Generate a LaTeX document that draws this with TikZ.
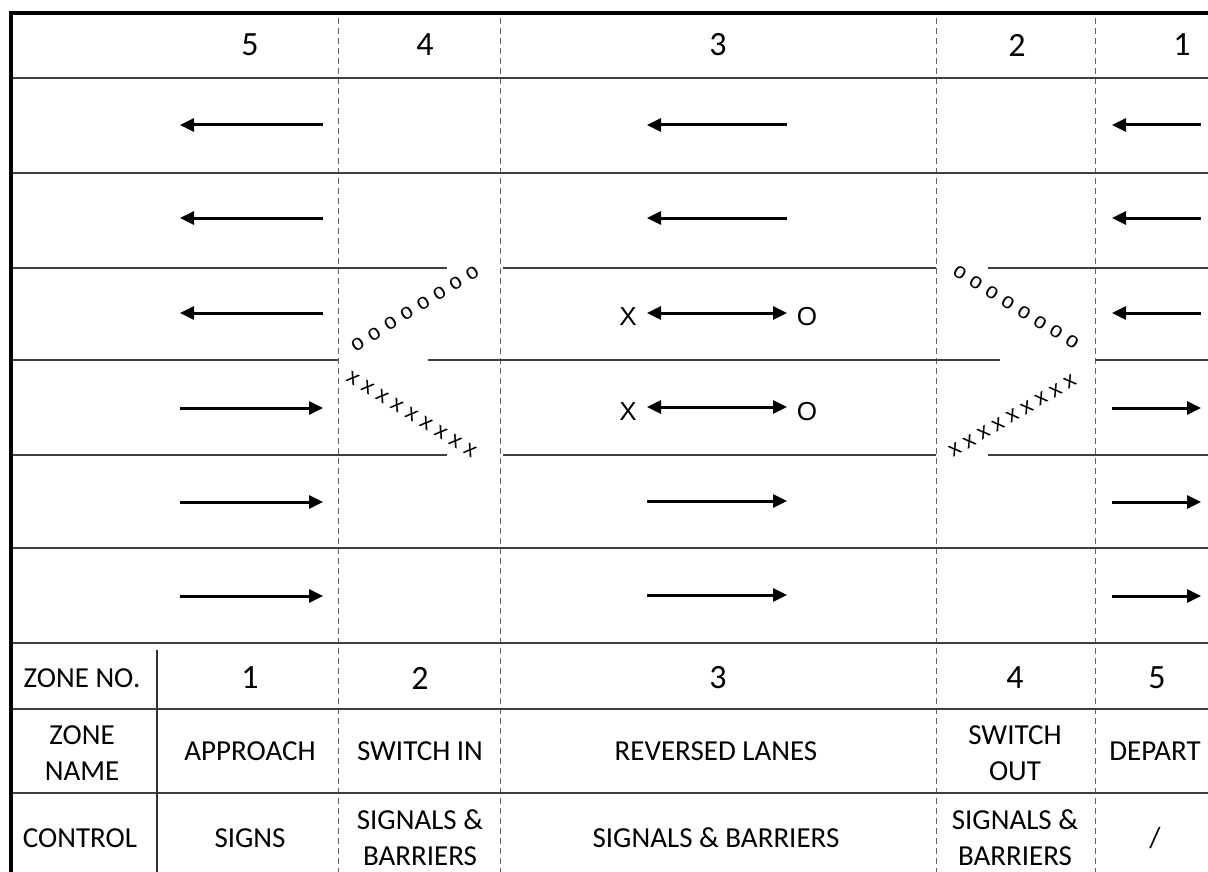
\documentclass[tikz,border=0pt]{standalone}
\usepackage{fontspec}
\setmainfont{Carlito}
\newfontfamily\arialf{Liberation Sans}
\usetikzlibrary{arrows.meta,calc}
\begin{document}
\begin{tikzpicture}[x=1pt,y=-1pt,
  hline/.style={line width=1.6pt, draw=black!75},
  dline/.style={line width=1pt, draw=black!60, dash pattern=on 6pt off 4pt},
  arr/.style={line width=3pt, -{Triangle[length=14pt,width=13pt]}},
  darr/.style={line width=3pt, {Triangle[length=14pt,width=13pt]}-{Triangle[length=14pt,width=13pt]}},
  txt/.style={font=\fontsize{29}{36}\selectfont, align=center, inner sep=0pt},
  num/.style={font=\fontsize{34}{40}\selectfont, inner sep=0pt},
  xo/.style={font=\arialf\fontsize{26}{26}\selectfont, inner sep=0pt},
  sm/.style={font=\arialf\fontsize{22}{22}\selectfont, inner sep=0pt}]
\useasboundingbox (0,0) rectangle (1208,872);
\fill[white] (0,0) rectangle (1208,872);
% dashed verticals
\foreach \x in {338,500,936,1095} \draw[dline] (\x,18) -- (\x,872);
% horizontal lines
\foreach \y in {78,173,548,643,709,793} \draw[hline] (11,\y) -- (1208,\y);
\foreach \y in {268,455} {
  \draw[hline] (11,\y) -- (447,\y);
  \draw[hline] (503,\y) -- (936,\y);
  \draw[hline] (988,\y) -- (1208,\y);
}
\draw[hline] (11,360) -- (338,360);
\draw[hline] (428,360) -- (1000,360);
\draw[hline] (1095,360) -- (1208,360);
% solid vertical in bottom table
\draw[line width=1.6pt, draw=black!80] (157,650) -- (157,872);
% outer border
\draw[line width=4pt] (11,872) -- (11,13) -- (1208,13);
% header numbers
\node[num] (h5) at (250,45) {5};
\node[num] (h4) at (425,45) {4};
\node[num] (h3) at (718,45) {3};
\node[num] (h2) at (1017,45) {2};
\node[num] (h1) at (1182,45) {1};
% arrows
\foreach \y in {125,218,313} {
  \draw[arr] (323,\y) -- (180,\y);
  \draw[arr] (1201,\y) -- (1112,\y);
}
\foreach \y in {125,218} \draw[arr] (787,\y) -- (647,\y);
\foreach \y in {408,502,596} {
  \draw[arr] (180,\y) -- (323,\y);
  \draw[arr] (1112,\y) -- (1201,\y);
}
\foreach \y in {501,595} \draw[arr] (647,\y) -- (787,\y);
\draw[darr] (647,313) -- (787,313);
\draw[darr] (647,407) -- (787,407);
\node[xo] (x1) at (628,317) {X};
\node[xo] (o1) at (807,317) {O};
\node[xo] (x2) at (628,412) {X};
\node[xo] (o2) at (807,412) {O};
% switch in
\node[sm, rotate=31.9] (sio) at (415,308.5)
  {o\kern7pt o\kern7pt o\kern7pt o\kern7pt o\kern7pt o\kern7pt o\kern7pt o};
\node[sm, rotate=-31.6] (six) at (411.5,414)
  {x\kern6.2pt x\kern6.2pt x\kern6.2pt x\kern6.2pt x\kern6.2pt x\kern6.2pt x\kern6.2pt x\kern6.2pt x};
% switch out
\node[sm, rotate=-31.6] (soo) at (1016,307.5)
  {o\kern6.6pt o\kern6.6pt o\kern6.6pt o\kern6.6pt o\kern6.6pt o\kern6.6pt o\kern6.6pt o};
\node[sm, rotate=30.6] (sox) at (1012.5,416)
  {x\kern5.7pt x\kern5.7pt x\kern5.7pt x\kern5.7pt x\kern5.7pt x\kern5.7pt x\kern5.7pt x\kern5.7pt x};
% bottom table
\node[txt] (zn) at (82,678) {ZONE NO.};
\node[num] (b1) at (250,678) {1};
\node[num] (b2) at (420,678) {2};
\node[num] (b3) at (718,678) {3};
\node[num] (b4) at (1015,678) {4};
\node[num] (b5) at (1157,678) {5};
\node[txt] (zname) at (82,753) {ZONE\\NAME};
\node[txt] (n1) at (250,751) {APPROACH};
\node[txt] (n2) at (420,751) {SWITCH IN};
\node[txt] (n3) at (716,751) {REVERSED LANES};
\node[txt] (n4) at (1015,753) {SWITCH\\OUT};
\node[txt] (n5) at (1155,751) {DEPART};
\node[txt] (ctl) at (80,838) {CONTROL};
\node[txt] (c1) at (250,838) {SIGNS};
\node[txt] (c2) at (420,838) {SIGNALS \&\\BARRIERS};
\node[txt] (c3) at (716,838) {SIGNALS \& BARRIERS};
\node[txt] (c4) at (1015,838) {SIGNALS \&\\BARRIERS};
\node[txt] (c5) at (1155,838) {/};
\end{tikzpicture}
\end{document}
